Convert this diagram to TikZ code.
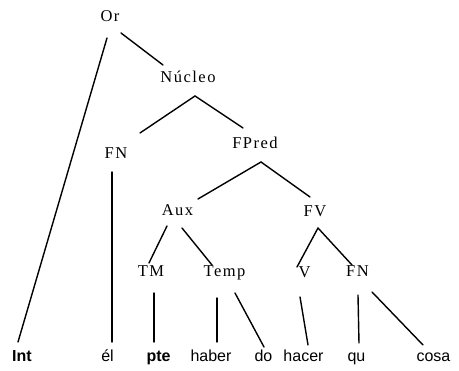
\documentclass[tikz,border=0pt]{standalone}
\usepackage{fontspec}
\setmainfont{Liberation Serif}
\newfontfamily\leaffont{Liberation Sans}
\newfontfamily\catfont[LetterSpace=9]{Liberation Serif}
\begin{document}
\begin{tikzpicture}[x=1pt,y=1pt,
  cat/.style={anchor=base,inner sep=0pt,font=\catfont\fontsize{16.5}{19}\selectfont},
  leaf/.style={anchor=base,inner sep=0pt,font=\leaffont\fontsize{16}{19}\selectfont},
  branch/.style={line width=1.4pt,line cap=round}]
\useasboundingbox[fill=white] (0,0) rectangle (459,371);
% categories (baseline positions)
\node[cat] (or)     at (110,349) {Or};
\node[cat] (nucleo) at (188,288) {Núcleo};
\node[cat] (fn1)    at (116,212) {FN};
\node[cat] (fpred)  at (255,222) {FPred};
\node[cat] (aux)    at (177.5,155) {Aux};
\node[cat] (fv)     at (315,154) {FV};
\node[cat] (tm)     at (151,94) {TM};
\node[cat] (temp)   at (224.5,94) {Temp};
\node[cat] (v)      at (304.5,93) {V};
\node[cat] (fn2)    at (357.5,94) {FN};
% leaves
\node[leaf] (int)   at (22,9)    {\bfseries Int};
\node[leaf] (el)    at (107.5,9) {él};
\node[leaf] (pte)   at (158.5,9) {\bfseries pte};
\node[leaf] (haber) at (211,9)   {haber};
\node[leaf] (do)    at (263.5,9) {do};
\node[leaf] (hacer) at (303.5,9) {hacer};
\node[leaf] (qu)    at (356.5,9) {qu};
\node[leaf] (cosa)  at (433.5,9) {cosa};
% branches
\draw[branch] ([shift={(-3,-16)}]or.base) -- ([shift={(-4,20)}]int.base);
\draw[branch] ([shift={(11,-11)}]or.base) -- ([shift={(-25,18)}]nucleo.base);
\draw[branch] ([shift={(24,26)}]fn1.base) -- ([shift={(7,-13)}]nucleo.base) -- ([shift={(-12,21)}]fpred.base);
\draw[branch] ([shift={(20.5,17)}]aux.base) -- ([shift={(6,-13)}]fpred.base) -- ([shift={(-5,20)}]fv.base);
\draw[branch] ([shift={(-10.5,-10)}]aux.base) -- ([shift={(-2,14)}]tm.base);
\draw[branch] ([shift={(4.5,-12)}]aux.base) -- ([shift={(-12.5,12)}]temp.base);
\draw[branch] ([shift={(-4,-13)}]fn1.base) -- ([shift={(4.5,20)}]el.base);
\draw[branch] ([shift={(3,-16)}]tm.base) -- ([shift={(-4.5,20)}]pte.base);
\draw[branch] ([shift={(-7.5,-21)}]temp.base) -- ([shift={(6,20)}]haber.base);
\draw[branch] ([shift={(10.5,-16)}]temp.base) -- ([shift={(0.5,15)}]do.base);
\draw[branch] ([shift={(3,-11)}]fv.base) -- ([shift={(-7.5,11)}]v.base);
\draw[branch] ([shift={(3,-11)}]fv.base) -- ([shift={(-5.5,12)}]fn2.base);
\draw[branch] ([shift={(-4.5,-19)}]v.base) -- ([shift={(4.5,17)}]hacer.base);
\draw[branch] ([shift={(0.5,-18)}]fn2.base) -- ([shift={(2.5,19)}]qu.base);
\draw[branch] ([shift={(14.5,-15)}]fn2.base) -- ([shift={(-10.5,17)}]cosa.base);
\end{tikzpicture}
\end{document}
